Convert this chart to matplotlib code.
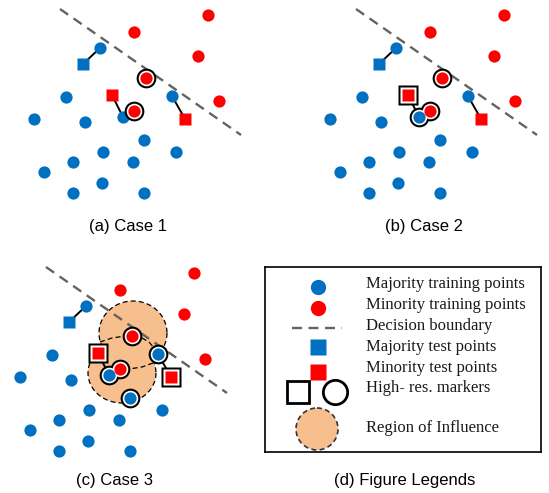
import numpy as np
import matplotlib
matplotlib.use("Agg")
import matplotlib.pyplot as plt
from matplotlib.patches import Ellipse, Circle

# training points (same layout in every case, local pixel-like coords)
maj_x = [100, 66, 34, 85, 123, 172, 144, 103, 176, 73, 133, 44, 102, 73, 144]
maj_y = [48, 97, 119, 122, 117, 96, 140, 152, 152, 162, 162, 172, 183, 193, 193]
min_x = [208, 134, 198, 146, 219, 134]
min_y = [15, 32, 56, 78, 101, 111]

# test points
maj_test_x = [83]
maj_test_y = [64]
min_test_x = [112, 185]
min_test_y = [95, 119]

# which training point each test point is linked to (index into majority list)
maj_test_link = [0]
min_test_link = [4, 5]

# decision boundary end points
bound_x = [60, 241]
bound_y = [9, 135]

# high-res. markers per case
cases = ["(a) Case 1", "(b) Case 2", "(c) Case 3"]
ring_maj = [[], [4], [4, 5, 6]]
ring_min = [[3, 5], [3, 5], [3, 5]]
ring_sq = [[], [0], [0, 1]]

# region of influence (case 3): two ellipses + inner dashed arcs
blob_cx = [147, 136]
blob_cy = [75, 115]
blob_rx = [34, 34]
blob_ry = [32, 30]
inner_x = [[114, 126, 139], [156, 163, 168], [167, 156, 143]]
inner_y = [[84, 80, 78], [80, 84, 90], [105, 109, 111]]

BLUE = "#0070C0"
RED = "#FF0000"
ORANGE = "#F7BF8E"
GREY = "#636363"

W, H = 549, 493
fig = plt.figure(figsize=(W / 100, H / 100), dpi=100)


def px_axes(left, top, w, h):
    ax = fig.add_axes([left / W, 1 - (top + h) / H, w / W, h / H])
    ax.set_xlim(0, w)
    ax.set_ylim(h, 0)
    ax.axis("off")
    return ax


PW, PH = 275, 215
offsets = [(0, 0), (296, 0), (-14, 258)]
cap_pos = [(128, 226), (424, 226), (115, 480)]

for k in range(3):
    ox, oy = offsets[k]
    ax = px_axes(ox, oy, PW, PH)

    if k == 2:
        for i in range(2):
            ax.add_patch(Ellipse((blob_cx[i], blob_cy[i]), 2 * blob_rx[i], 2 * blob_ry[i],
                                 facecolor=ORANGE, edgecolor="none", zorder=1))
        # outline of the union
        t = np.linspace(0, 2 * np.pi, 400)
        for i in range(2):
            j = 1 - i
            ex = blob_cx[i] + blob_rx[i] * np.cos(t)
            ey = blob_cy[i] + blob_ry[i] * np.sin(t)
            inside = ((ex - blob_cx[j]) / blob_rx[j]) ** 2 + ((ey - blob_cy[j]) / blob_ry[j]) ** 2 < 1
            ex = np.where(inside, np.nan, ex)
            ax.plot(ex, ey, color="black", lw=0.9, ls=(0, (4, 2.5)), zorder=1.5)
        for xs, ys in zip(inner_x, inner_y):
            ax.plot(xs, ys, color="black", lw=0.9, ls=(0, (4, 2.5)), zorder=1.5)

    ax.plot(bound_x, bound_y, color=GREY, lw=1.7, ls=(0, (4.2, 2.8)), zorder=2)

    # links test -> training
    for i in range(len(maj_test_x)):
        j = maj_test_link[i]
        ax.plot([maj_test_x[i], maj_x[j]], [maj_test_y[i], maj_y[j]], color="black", lw=1.4, zorder=3)
    for i in range(len(min_test_x)):
        j = min_test_link[i]
        ax.plot([min_test_x[i], maj_x[j]], [min_test_y[i], maj_y[j]], color="black", lw=1.4, zorder=3)

    rm, rn, rs = ring_maj[k], ring_min[k], ring_sq[k]
    plain_maj = [i for i in range(len(maj_x)) if i not in rm]
    plain_min = [i for i in range(len(min_x)) if i not in rn]
    plain_sq = [i for i in range(len(min_test_x)) if i not in rs]

    ax.plot([maj_x[i] for i in plain_maj], [maj_y[i] for i in plain_maj], "o", ms=8.8,
            color=BLUE, mec="none", zorder=4)
    ax.plot([min_x[i] for i in plain_min], [min_y[i] for i in plain_min], "o", ms=8.8,
            color=RED, mec="none", zorder=4)
    ax.plot(maj_test_x, maj_test_y, "s", ms=8.8, color=BLUE, mec="none", zorder=4)
    ax.plot([min_test_x[i] for i in plain_sq], [min_test_y[i] for i in plain_sq], "s", ms=8.8,
            color=RED, mec="none", zorder=4)

    # rings: black, then white, then the dot
    cx = [maj_x[i] for i in rm] + [min_x[i] for i in rn]
    cy = [maj_y[i] for i in rm] + [min_y[i] for i in rn]
    sx = [min_test_x[i] for i in rs]
    sy = [min_test_y[i] for i in rs]
    ax.plot(cx, cy, "o", ms=14.2, color="black", mec="none", zorder=5)
    ax.plot(sx, sy, "s", ms=14.2, color="black", mec="none", zorder=5)
    ax.plot(cx, cy, "o", ms=11.2, color="white", mec="none", zorder=6)
    ax.plot(sx, sy, "s", ms=11.2, color="white", mec="none", zorder=6)
    ax.plot([maj_x[i] for i in rm], [maj_y[i] for i in rm], "o", ms=8.8, color=BLUE, mec="none", zorder=7)
    ax.plot([min_x[i] for i in rn], [min_y[i] for i in rn], "o", ms=8.8, color=RED, mec="none", zorder=7)
    ax.plot(sx, sy, "s", ms=8.8, color=RED, mec="none", zorder=7)

    fig.text(cap_pos[k][0] / W, 1 - cap_pos[k][1] / H, cases[k], ha="center", va="center",
             fontsize=12, family="Liberation Sans")

# legend panel
legend_labels = ["Majority training points", "Minority training points", "Decision boundary",
                 "Majority test points", "Minority test points", "High- res. markers",
                 "Region of Influence"]
legend_text_y = [17, 38, 59, 80, 101, 121, 161]

lx, ly, lw_, lh = 265, 267, 276, 185
lax = fig.add_axes([lx / W, 1 - (ly + lh) / H, lw_ / W, lh / H])
lax.set_xlim(0, lw_)
lax.set_ylim(lh, 0)
lax.set_xticks([])
lax.set_yticks([])
for s in lax.spines.values():
    s.set_linewidth(1.2)

lax.plot(53, 20, "o", ms=11, color=BLUE, mec="none")
lax.plot(53, 41, "o", ms=11, color=RED, mec="none")
lax.plot([27, 77], [61, 61], color=GREY, lw=1.7, ls=(0, (4.2, 2.8)))
lax.plot(53, 80, "s", ms=11, color=BLUE, mec="none")
lax.plot(53, 105, "s", ms=11, color=RED, mec="none")
lax.plot(33, 125, "s", ms=16.5, mfc="none", mec="black", mew=2)
lax.plot(70, 125, "o", ms=17.5, mfc="none", mec="black", mew=2)
lax.add_patch(Circle((52, 162), 21, facecolor=ORANGE, edgecolor="#333333", lw=1.2,
                     ls=(0, (3, 2))))
for t, y in zip(legend_labels, legend_text_y):
    lax.text(101, y, t, va="center", ha="left", fontsize=12, family="Liberation Serif",
             color="#1a1a1a")

fig.text(405 / W, 1 - 480 / H, "(d) Figure Legends", ha="center", va="center",
         fontsize=12, family="Liberation Sans")

fig.savefig("out.png", dpi=100)
